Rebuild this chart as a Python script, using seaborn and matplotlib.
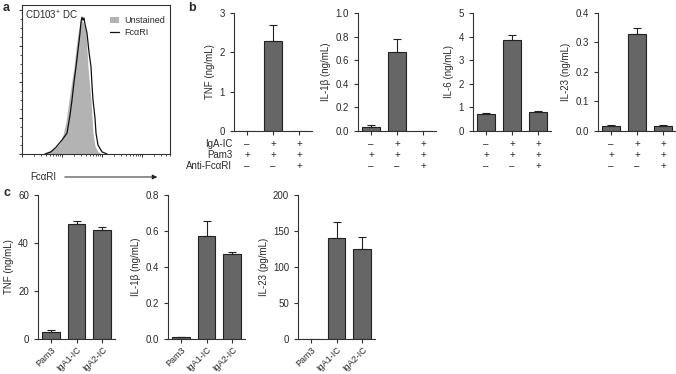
import numpy as np
import pandas as pd
import matplotlib
matplotlib.use("Agg")
import matplotlib.pyplot as plt
import seaborn as sns
from matplotlib.patches import Patch
from matplotlib.lines import Line2D

# ---- panel a: flow histogram (x in log10 decades, height in tick units) ----
unstained_x = [0.525, 0.675, 0.825, 0.95, 1.025, 1.1, 1.175, 1.25, 1.3, 1.35, 1.4, 1.45,
               1.475, 1.525, 1.575, 1.6, 1.65, 1.7, 1.725, 1.775, 1.825, 1.9, 2.0]
unstained_h = [0.0, 0.08, 0.17, 0.31, 0.53, 0.89, 1.5, 2.06, 2.42, 2.94, 3.36, 3.64,
               3.72, 3.67, 3.5, 3.36, 2.42, 1.78, 1.5, 0.58, 0.22, 0.06, 0.0]
fcar_x = [0.575, 0.725, 0.85, 1.0, 1.125, 1.2, 1.25, 1.3, 1.35, 1.4, 1.45, 1.475, 1.5,
          1.525, 1.55, 1.575, 1.625, 1.675, 1.725, 1.75, 1.775, 1.825, 1.85, 1.9, 2.0, 2.125]
fcar_h = [0.0, 0.06, 0.19, 0.39, 0.58, 1.08, 1.5, 2.0, 2.42, 2.89, 3.36, 3.67, 3.8,
          3.72, 3.78, 3.61, 3.36, 2.83, 2.42, 1.92, 1.5, 1.0, 0.58, 0.25, 0.06, 0.0]

# ---- panel b: CD103+ DC cytokines ----
b_conditions = ["Pam3", "Pam3+IgA-IC", "Pam3+IgA-IC+anti"]
b_rows = ["IgA-IC", "Pam3", "Anti-Fc\u03b1RI"]
b_signs = [["\u2013", "+", "+"], ["+", "+", "+"], ["\u2013", "\u2013", "+"]]
b_tnf = [0.0, 2.3, 0.0]
b_tnf_err = [0.0, 0.4, 0.0]
b_il1b = [0.03, 0.67, 0.0]
b_il1b_err = [0.025, 0.11, 0.0]
b_il6 = [0.72, 3.85, 0.80]
b_il6_err = [0.03, 0.22, 0.03]
b_il23 = [0.017, 0.328, 0.017]
b_il23_err = [0.005, 0.022, 0.004]

# ---- panel c ----
c_conditions = ["Pam3", "IgA1-IC", "IgA2-IC"]
c_tnf = [3.0, 48.0, 45.5]
c_tnf_err = [0.6, 1.2, 1.2]
c_il1b = [0.01, 0.575, 0.47]
c_il1b_err = [0.002, 0.08, 0.015]
c_il23 = [0.0, 140.0, 125.0]
c_il23_err = [0.0, 23.0, 17.0]

sns.set_theme(style="ticks")
plt.rcParams['font.family'] = ['Liberation Sans', 'DejaVu Sans']
plt.rcParams['mathtext.default'] = 'regular'
TXT = '#2a2a2a'
LINE = '#333333'
plt.rcParams.update({
    'axes.edgecolor': LINE, 'axes.linewidth': 0.8,
    'xtick.color': LINE, 'ytick.color': LINE,
    'xtick.labelcolor': TXT, 'ytick.labelcolor': TXT,
    'xtick.major.width': 0.8, 'ytick.major.width': 0.8,
    'xtick.major.size': 3, 'ytick.major.size': 3,
    'xtick.labelsize': 7, 'ytick.labelsize': 7,
    'axes.labelsize': 7, 'axes.labelcolor': TXT, 'text.color': TXT,
})

W, H = 676, 374
fig = plt.figure(figsize=(W / 100, H / 100), dpi=100)


def box(x0, x1, y0, y1):
    return fig.add_axes([x0 / W, (H - y1) / H, (x1 - x0) / W, (y1 - y0) / H])


# ---------------- panel a ----------------
ax = box(22, 170, 5, 154)
ax.fill_between(unstained_x, unstained_h, color='#b3b3b3', lw=0)
ax.plot(fcar_x, fcar_h, color='#111111', lw=0.9)
ax.set_xlim(0, 3.7)
ax.set_ylim(0, 4.14)
ax.set_xticks(range(4))
ax.set_xticks([d + np.log10(k) for d in range(4) for k in range(2, 10) if d + np.log10(k) < 3.7], minor=True)
ax.set_yticks(range(5))
ax.set_yticks(np.arange(0, 4.1, 0.25), minor=True)
ax.tick_params(labelbottom=False, labelleft=False, length=2.5, width=0.7)
ax.tick_params(which='minor', length=1.5, width=0.6)
for s in ax.spines.values():
    s.set_visible(True)
ax.text(0.02, 0.93, "CD103$^{+}$ DC", transform=ax.transAxes, fontsize=7, va='center')
handles = [Patch(facecolor='#b3b3b3', edgecolor='none', label='Unstained'),
           Line2D([], [], color='#111111', lw=0.9, label='Fc\u03b1RI')]
ax.legend(handles=handles, loc='upper right', bbox_to_anchor=(1.02, 0.98), frameon=False,
          fontsize=6.5, handlelength=1.0, handleheight=0.8, handletextpad=0.5, labelspacing=0.3)
fig.text(30 / W, (H - 177) / H, "Fc\u03b1RI", fontsize=7, va='center')
ax.annotate("", xy=(160, H - 177), xytext=(62, H - 177), xycoords='figure pixels',
            textcoords='figure pixels',
            arrowprops=dict(arrowstyle='-|>', color='#222222', lw=0.7, mutation_scale=7))


def bars(ax, cats, vals, errs, ymax, step, ylabel, fmt):
    df = pd.DataFrame({'cond': cats, 'val': vals})
    sns.barplot(data=df, x='cond', y='val', ax=ax, color='#666666', edgecolor='#222222',
                linewidth=0.8, width=0.7, errorbar=None, saturation=1)
    pos = np.arange(len(vals))
    v = np.array(vals)
    e = np.array(errs)
    m = e > 0
    ax.errorbar(pos[m], v[m], yerr=[np.zeros(m.sum()), e[m]], fmt='none',
                ecolor='#222222', elinewidth=0.8, capsize=3, capthick=0.8)
    ax.set_xlim(-0.5, len(vals) - 0.5)
    ax.set_ylim(0, ymax)
    ax.set_yticks(np.arange(0, ymax + step / 2, step))
    ax.yaxis.set_major_formatter(matplotlib.ticker.FormatStrFormatter(fmt))
    ax.set_ylabel(ylabel, labelpad=3)
    ax.set_xlabel('')
    sns.despine(ax=ax)


# ---------------- panel b ----------------
b_specs = [
    (234, 312, b_tnf, b_tnf_err, 3, 1, "TNF (ng/mL)", '%d'),
    (358, 436, b_il1b, b_il1b_err, 1.0, 0.2, "IL-1\u03b2 (ng/mL)", '%.1f'),
    (473, 551, b_il6, b_il6_err, 5, 1, "IL-6 (ng/mL)", '%d'),
    (598, 676, b_il23, b_il23_err, 0.4, 0.1, "IL-23 (ng/mL)", '%.1f'),
]
for k, (x0, x1, vals, errs, ymax, step, lab, fmt) in enumerate(b_specs):
    ax = box(x0, x1, 13, 131)
    bars(ax, b_conditions, vals, errs, ymax, step, lab, fmt)
    ax.set_xticklabels([])
    for r, row in enumerate(b_signs):
        for i, sgn in enumerate(row):
            ax.annotate(sgn, xy=(i, 0), xycoords=('data', 'axes fraction'),
                        xytext=(0, -(13 + 11 * r) * 0.72), textcoords='offset points',
                        ha='center', va='center', fontsize=7)
        if k == 0:
            ax.annotate(b_rows[r], xy=(0, 0), xycoords='axes fraction',
                        xytext=(-2 * 0.72, -(13 + 11 * r) * 0.72), textcoords='offset points',
                        ha='right', va='center', fontsize=7)

# ---------------- panel c ----------------
c_specs = [
    (38, 115, c_tnf, c_tnf_err, 60, 20, "TNF (ng/mL)", '%d'),
    (168, 245, c_il1b, c_il1b_err, 0.8, 0.2, "IL-1\u03b2 (ng/mL)", '%.1f'),
    (298, 375, c_il23, c_il23_err, 200, 50, "IL-23 (pg/mL)", '%d'),
]
for x0, x1, vals, errs, ymax, step, lab, fmt in c_specs:
    ax = box(x0, x1, 195, 339)
    bars(ax, c_conditions, vals, errs, ymax, step, lab, fmt)
    ax.set_xticks(range(len(c_conditions)))
    ax.set_xticklabels(c_conditions, rotation=45, ha='right', rotation_mode='anchor',
                       fontsize=6.5)
    ax.tick_params(axis='x', pad=1.5)

# panel letters
fig.text(3 / W, (H - 8) / H, "a", fontsize=9, fontweight='bold', va='center')
fig.text(188 / W, (H - 8) / H, "b", fontsize=9, fontweight='bold', va='center')
fig.text(3 / W, (H - 193) / H, "c", fontsize=9, fontweight='bold', va='center')

fig.savefig("out.png", dpi=100)
